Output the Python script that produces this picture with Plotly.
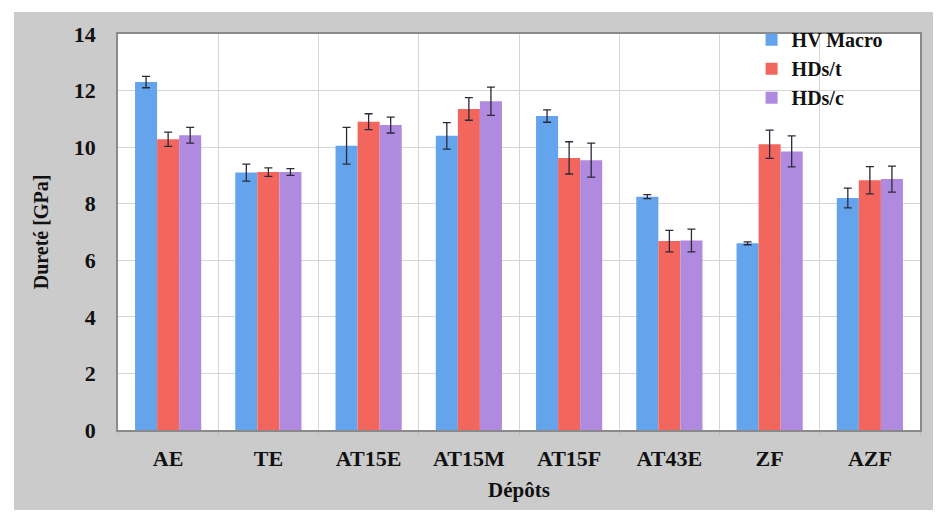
import plotly.graph_objects as go

# Dureté des dépôts
depots = ["AE", "TE", "AT15E", "AT15M", "AT15F", "AT43E", "ZF", "AZF"]

hv_macro = [12.3, 9.1, 10.05, 10.4, 11.1, 8.25, 6.6, 8.2]
hv_macro_err = [0.2, 0.3, 0.65, 0.47, 0.22, 0.07, 0.05, 0.35]

hds_t = [10.28, 9.12, 10.9, 11.35, 9.62, 6.68, 10.1, 8.83]
hds_t_err = [0.25, 0.15, 0.28, 0.4, 0.57, 0.38, 0.5, 0.48]

hds_c = [10.42, 9.12, 10.78, 11.62, 9.54, 6.7, 9.85, 8.87]
hds_c_err = [0.28, 0.12, 0.28, 0.5, 0.6, 0.4, 0.55, 0.46]

FONT = "Liberation Serif, Times New Roman, serif"
ERR = dict(type="data", visible=True, color="#2a2a3a", thickness=1.3, width=4)

series = [
    ("HV Macro", hv_macro, hv_macro_err, "#64a4ec"),
    ("HDs/t", hds_t, hds_t_err, "#f2665e"),
    ("HDs/c", hds_c, hds_c_err, "#b08ade"),
]

fig = go.Figure()
for name, vals, errs, col in series:
    fig.add_trace(
        go.Bar(
            x=depots,
            y=vals,
            name=name,
            marker=dict(color=col, line=dict(width=0)),
            error_y=dict(array=errs, **ERR),
        )
    )

# fond gris du cadre + zone de tracé blanche
fig.add_shape(type="rect", xref="paper", yref="paper",
              x0=-104 / 802, x1=820 / 802, y0=-80 / 396, y1=1 + 22 / 396,
              fillcolor="#cbcbcb", line=dict(width=0), layer="below")
fig.add_shape(type="rect", xref="paper", yref="paper",
              x0=0, x1=1, y0=0, y1=1,
              fillcolor="white", line=dict(width=0), layer="below")

fig.update_layout(
    width=941,
    height=513,
    paper_bgcolor="white",
    plot_bgcolor="rgba(0,0,0,0)",
    barmode="group",
    bargap=0.34,
    bargroupgap=0,
    margin=dict(l=110, r=29, t=26, b=91),
    font=dict(family=FONT, size=21, color="#111111"),
    showlegend=True,
    legend=dict(
        x=0.79, y=1.035, xanchor="left", yanchor="top",
        bgcolor="rgba(0,0,0,0)",
        font=dict(family=FONT, size=20, color="#111111", weight="bold"),
        itemwidth=30, tracegroupgap=0, itemsizing="constant",
    ),
    xaxis=dict(
        tickson="boundaries",
        showgrid=True, gridcolor="#d6d6d6", gridwidth=1,
        showline=True, linecolor="#8a8a8a", linewidth=1.5, mirror=True,
        ticks="outside", ticklen=4, tickcolor="#bdbdbd",
        tickfont=dict(family=FONT, size=22, weight="bold"),
        ticklabelstandoff=8,
        title=dict(text="Dépôts", font=dict(family=FONT, size=21, weight="bold"), standoff=12),
    ),
    yaxis=dict(
        range=[0, 14], dtick=2,
        showgrid=True, gridcolor="#d6d6d6", gridwidth=1,
        showline=True, linecolor="#8a8a8a", linewidth=1.5, mirror=True,
        zeroline=False,
        ticks="outside", ticklen=0,
        tickfont=dict(family=FONT, size=22, weight="bold"),
        ticklabelstandoff=16,
        title=dict(text="Dureté [GPa]", font=dict(family=FONT, size=20, weight="bold"), standoff=20),
    ),
)

fig.write_html("out.html")
